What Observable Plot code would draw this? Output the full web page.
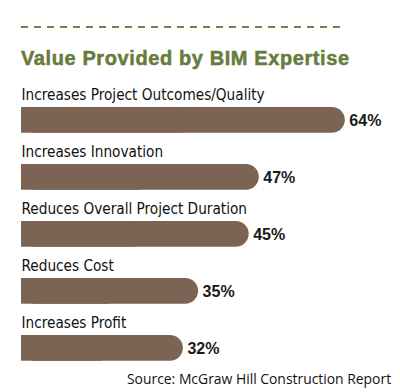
<!DOCTYPE html>
<html>
<head>
<meta charset="utf-8">
<script src="https://cdn.jsdelivr.net/npm/d3@7"></script>
<script src="https://cdn.jsdelivr.net/npm/@observablehq/plot@0.6"></script>
<style>
  html, body { margin: 0; padding: 0; background: #fff; }
  #wrap { position: relative; width: 400px; height: 392px; overflow: hidden; }
  #dash { position: absolute; left: 21px; top: 26px; width: 322px; height: 2px;
    background: repeating-linear-gradient(to right, #6f8446 0 7px, transparent 7px 13px); }
  #title { position: absolute; left: 21px; top: 48px; font-family: "Liberation Sans", Arial, sans-serif;
    font-weight: 900; font-size: 20px; letter-spacing: 0.6px; color: #677b3d; white-space: nowrap; line-height: 1;
    -webkit-text-stroke: 0.5px #677b3d; }
  #chart { position: absolute; left: 0; top: 78px; }
  #source { position: absolute; left: 127px; top: 372px; font-family: "Open Sans", sans-serif;
    font-size: 13.9px; color: #111; white-space: nowrap; line-height: 1; }
  g[aria-label="cat-labels"] text { letter-spacing: -0.5px; }
  g[aria-label="val-labels"] text { stroke: #1a1a1a; stroke-width: 0.4px; }
</style>
</head>
<body>
<div id="wrap">
  <div id="dash"></div>
  <div id="title">Value Provided by BIM Expertise</div>
  <div id="chart"></div>
  <div id="source">Source: McGraw Hill Construction Report</div>
</div>
<script>
const categories = [
  "Increases Project Outcomes/Quality",
  "Increases Innovation",
  "Reduces Overall Project Duration",
  "Reduces Cost",
  "Increases Profit"
];
const values = [64, 47, 45, 35, 32];
const valueLabels = ["64%", "47%", "45%", "35%", "32%"];

const data = categories.map((c, i) => ({category: c, value: values[i], label: valueLabels[i]}));
const barColor = "#7b6453";
const insetTop = 27, insetBottom = 4.3;

const chart = Plot.plot({
  width: 400,
  height: 289,
  marginTop: 0,
  marginBottom: 0,
  marginLeft: 21,
  marginRight: 0,
  x: {domain: [0, 74.9], axis: null},
  y: {domain: categories, axis: null, padding: 0},
  marks: [
    Plot.barX(data, {x: "value", y: "category", fill: barColor, rx: 13, insetTop, insetBottom}),
    Plot.barX(data, {x1: 0, x2: d => d.value / 2, y: "category", fill: barColor, insetTop, insetBottom}),
    Plot.text(data, {x: 0, y: "category", text: "category", textAnchor: "start", lineAnchor: "bottom",
      dy: -8.6, fontSize: 15.2, fill: "#111", ariaLabel: "cat-labels",
      fontFamily: "'Liberation Sans Narrow', 'DejaVu Sans Condensed', sans-serif"}),
    Plot.text(data, {x: "value", y: "category", text: "label", textAnchor: "start", lineAnchor: "bottom",
      dx: 4, dy: 16.5, fontSize: 16, fontWeight: "bold", fill: "#1a1a1a", ariaLabel: "val-labels",
      fontFamily: "'Liberation Sans', Arial, sans-serif"})
  ]
});
document.getElementById("chart").appendChild(chart);
</script>
</body>
</html>
